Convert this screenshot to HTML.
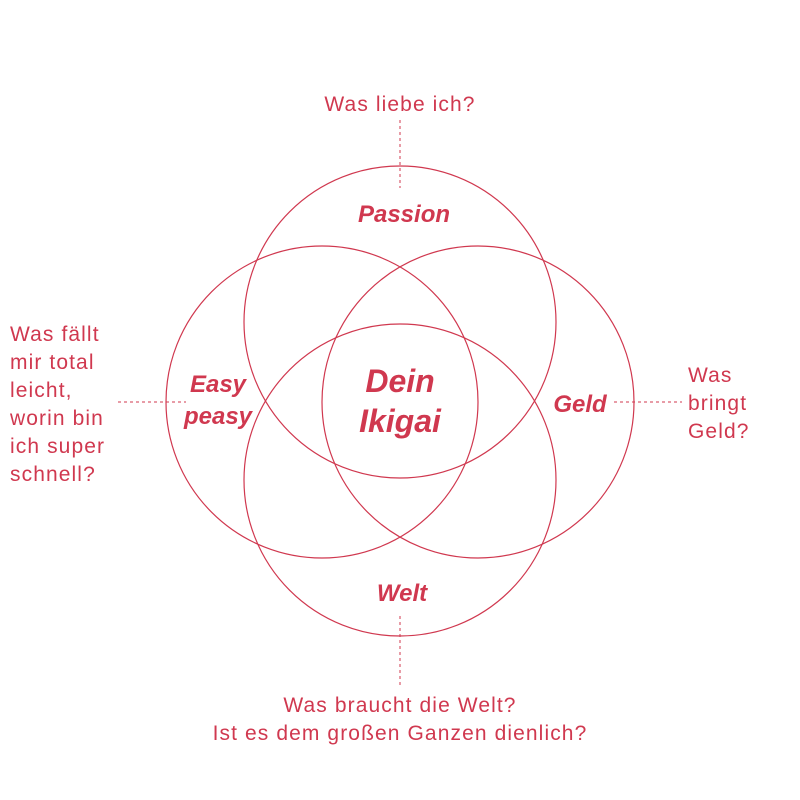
<!DOCTYPE html>
<html><head><meta charset="utf-8"><style>
html,body{margin:0;padding:0;background:#fff;}
svg{display:block}
.q{font-family:"Liberation Sans","DejaVu Sans",sans-serif;font-size:21px;fill:#d0384f;letter-spacing:1.1px}
.h{font-family:"Liberation Sans","DejaVu Sans",sans-serif;font-style:italic;font-weight:bold;fill:#d0384f}
</style></head><body>
<svg width="800" height="800" viewBox="0 0 800 800">
<g fill="none" stroke="#d0384f" stroke-width="1.2">
<circle cx="400" cy="322" r="156"/>
<circle cx="322" cy="402" r="156"/>
<circle cx="478" cy="402" r="156"/>
<circle cx="400" cy="480" r="156"/>
</g>
<g stroke="#d0384f" stroke-width="1" stroke-dasharray="3,3">
<line x1="400" y1="120" x2="400" y2="188"/>
<line x1="118" y1="402" x2="186" y2="402"/>
<line x1="614" y1="402" x2="682" y2="402"/>
<line x1="400" y1="616" x2="400" y2="686"/>
</g>
<text class="q" x="400" y="111" text-anchor="middle">Was liebe ich?</text>
<text class="q" x="10" y="341">Was fällt</text>
<text class="q" x="10" y="369">mir total</text>
<text class="q" x="10" y="397">leicht,</text>
<text class="q" x="10" y="425">worin bin</text>
<text class="q" x="10" y="453">ich super</text>
<text class="q" x="10" y="481">schnell?</text>
<text class="q" x="688" y="382">Was</text>
<text class="q" x="688" y="410">bringt</text>
<text class="q" x="688" y="438">Geld?</text>
<text class="q" x="400" y="712" text-anchor="middle">Was braucht die Welt?</text>
<text class="q" x="400" y="740" text-anchor="middle">Ist es dem großen Ganzen dienlich?</text>
<text class="h" x="404" y="222" text-anchor="middle" font-size="24">Passion</text>
<text class="h" x="218" y="392" text-anchor="middle" font-size="24">Easy</text>
<text class="h" x="218" y="424" text-anchor="middle" font-size="24">peasy</text>
<text class="h" x="580" y="412" text-anchor="middle" font-size="24">Geld</text>
<text class="h" x="402" y="601" text-anchor="middle" font-size="24">Welt</text>
<text class="h" x="400" y="392" text-anchor="middle" font-size="32">Dein</text>
<text class="h" x="400" y="432" text-anchor="middle" font-size="32">Ikigai</text>
</svg>
</body></html>
